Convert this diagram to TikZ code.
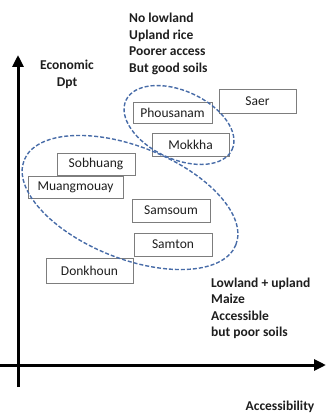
\documentclass[tikz,border=0pt]{standalone}
\usepackage{fontspec}
\setmainfont{Carlito}
\usetikzlibrary{arrows.meta}
\definecolor{ellblue}{RGB}{72,108,168}
\definecolor{boxgray}{RGB}{125,125,125}
\definecolor{txt}{RGB}{30,30,30}
\begin{document}
\begin{tikzpicture}[x=1pt,y=-1pt,
  every node/.style={font=\fontsize{13.5}{16.5}\selectfont, text=txt},
  village/.style={draw=boxgray, line width=0.9pt, inner sep=0pt},
  axis/.style={line width=3pt, black, -{Triangle[width=11pt,length=12pt]}},
  group/.style={draw=ellblue, line width=1.4pt, dash pattern=on 4pt off 2pt},
  note/.style={font=\fontsize{13.5}{16.5}\selectfont\bfseries, inner sep=0pt}]
\useasboundingbox (0,0) rectangle (326,414);
% axes
\coordinate (ybot) at (18,387);
\coordinate (ytop) at (18,55);
\coordinate (xl) at (0,365);
\coordinate (xr) at (326,365);
\draw[axis] (ybot) -- (ytop);
\draw[axis] (xl) -- (xr);
% labels
\node[note, align=center] (econ) at (67,74.5) {Economic\\Dpt};
\node[note, align=left, anchor=west] (upl) at (129,44) {No lowland\\Upland rice\\Poorer access\\But good soils};
\node[note, align=left, anchor=west] (low) at (211,308.5) {Lowland + upland\\Maize\\Accessible\\but poor soils};
\node[note] (acc) at (280,407) {Accessibility};
% villages
\node[village, minimum width=79pt, minimum height=21pt] (phou) at (172.5,112.5) {Phousanam};
\node[village, minimum width=77pt, minimum height=24pt] (saer) at (257.5,101) {Saer};
\node[village, minimum width=77pt, minimum height=23pt] (mok) at (190.5,144.5) {Mokkha};
\node[village, minimum width=78pt, minimum height=22pt] (sob) at (96,164) {Sobhuang};
\node[village, fill=white, minimum width=95pt, minimum height=22pt] (muang) at (75.5,187) {Muangmouay};
\node[village, minimum width=78pt, minimum height=23pt] (sams) at (171,210.5) {Samsoum};
\node[village, minimum width=78pt, minimum height=23pt] (samt) at (173,244.5) {Samton};
\node[village, minimum width=87pt, minimum height=25pt] (donk) at (89.5,270.5) {Donkhoun};
% groups
\draw[group, rotate around={-24.9:(179,125)}] (179,125) ellipse [x radius=58.5pt, y radius=34pt];
\draw[group, rotate around={-21.8:(130,202.5)}] (130,202.5) ellipse [x radius=114pt, y radius=56pt];
\end{tikzpicture}
\end{document}
